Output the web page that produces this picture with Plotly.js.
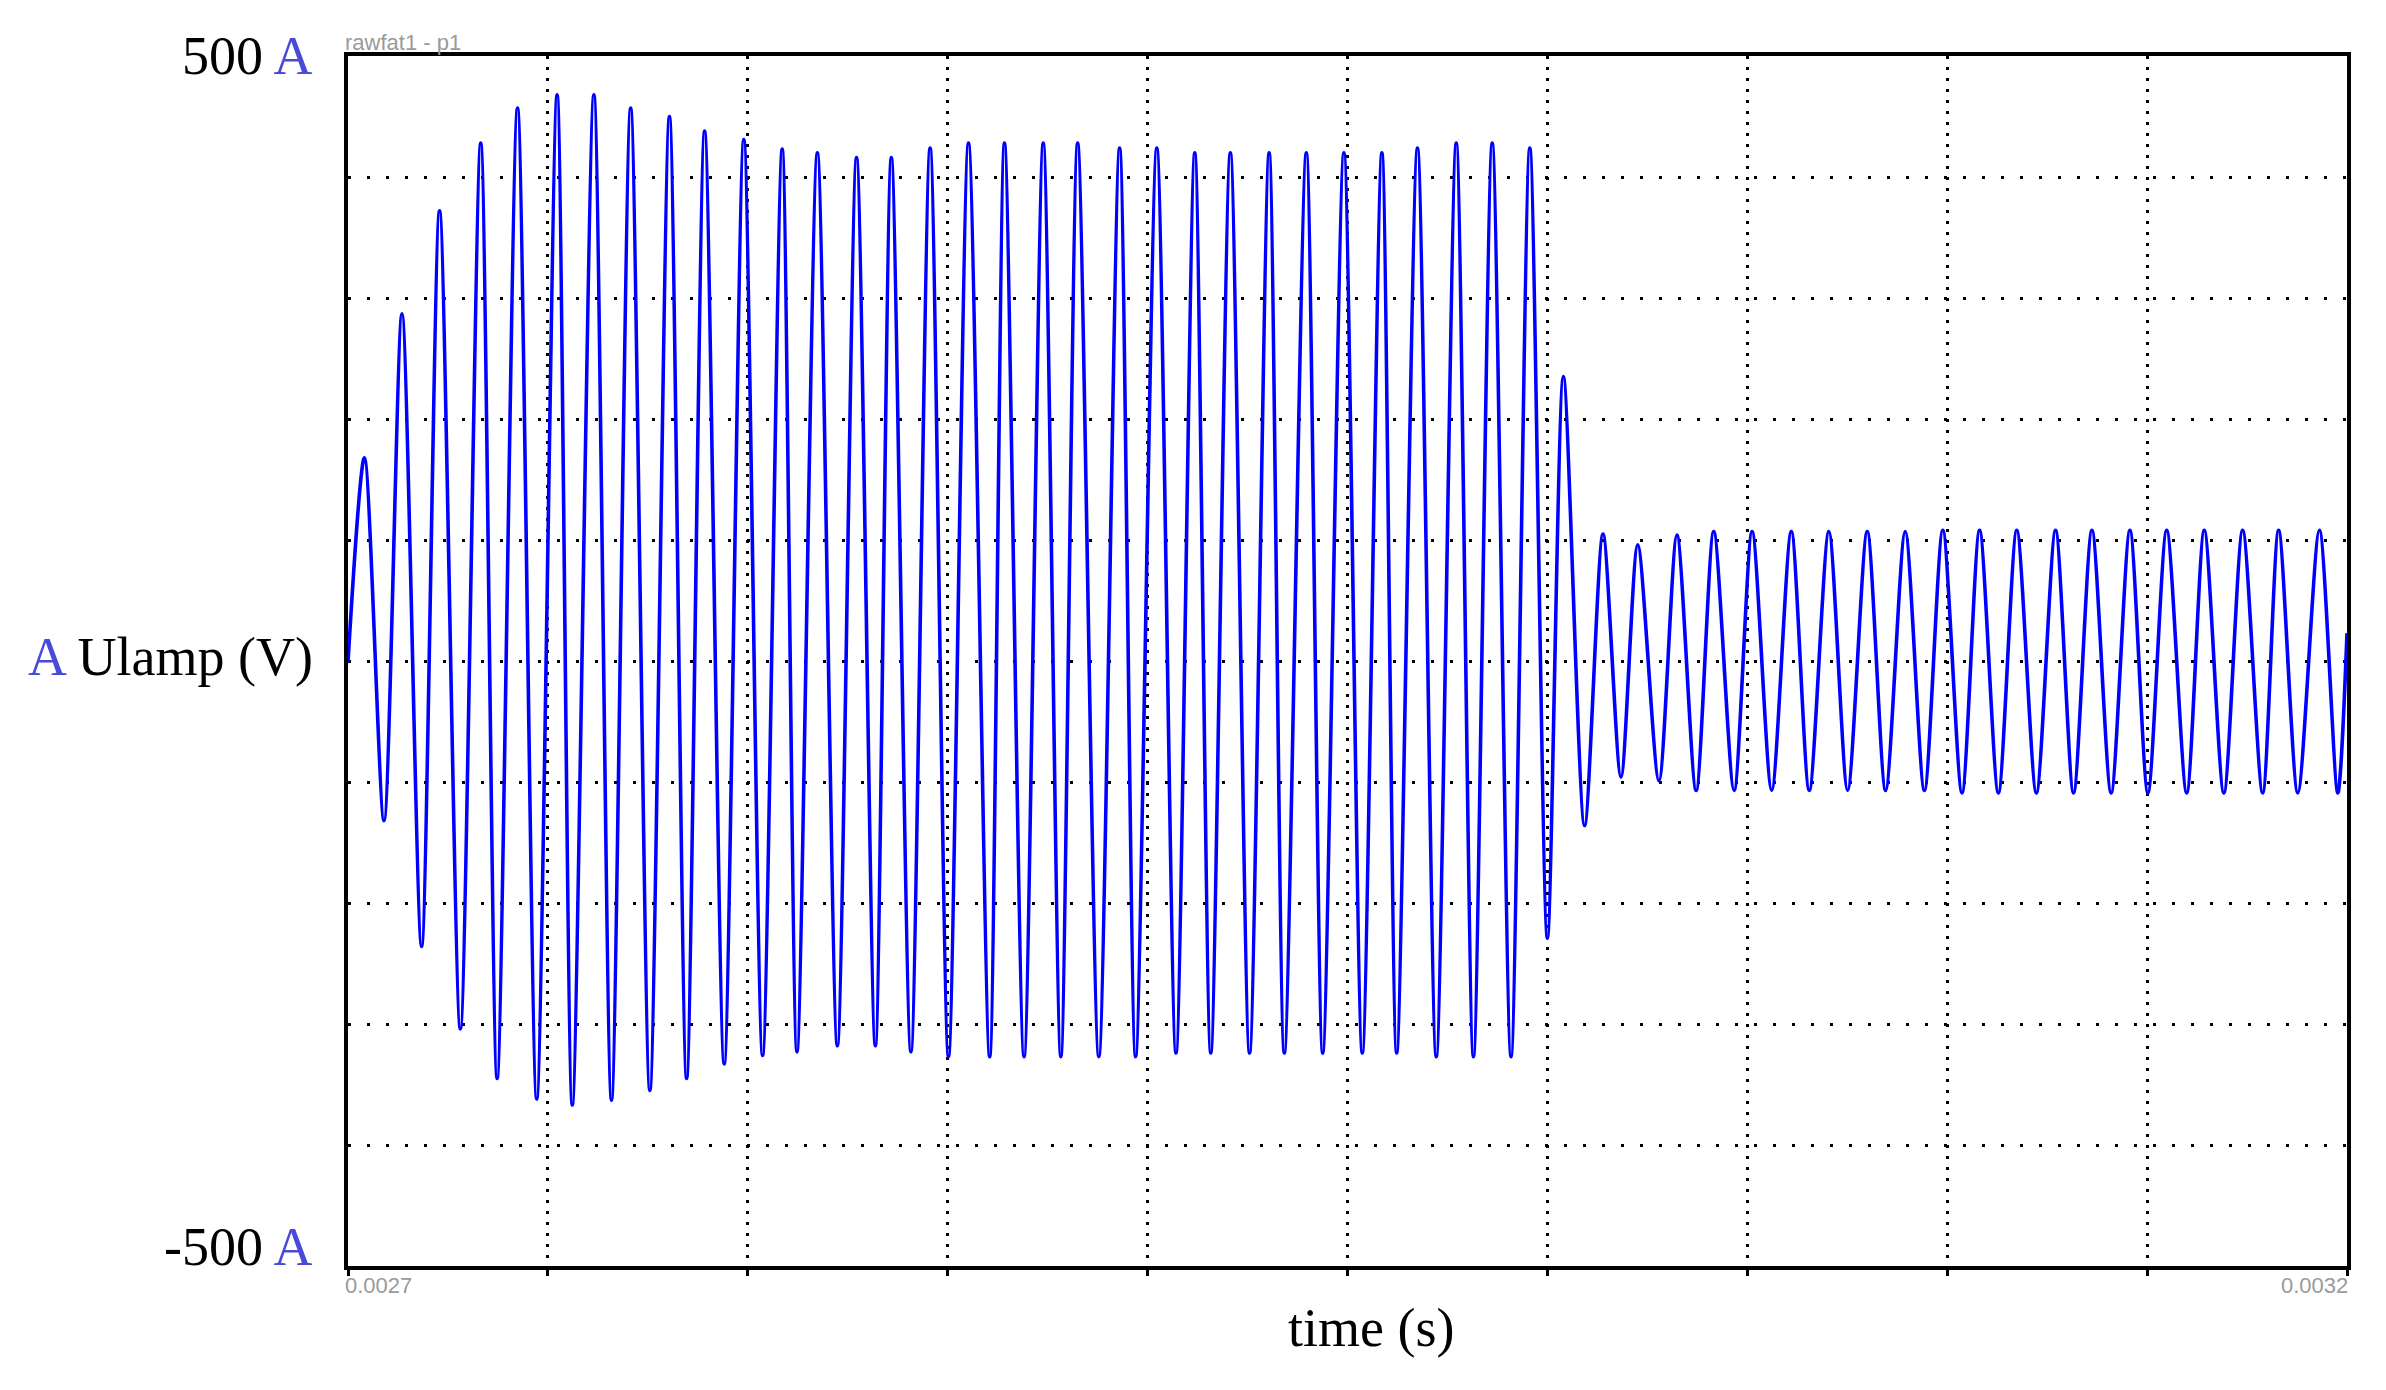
<!DOCTYPE html>
<html>
<head>
<meta charset="utf-8">
<script src="https://cdn.plot.ly/plotly-3.0.1.min.js"></script>
<style>
  html, body { margin: 0; padding: 0; background: #ffffff; }
  #chart { width: 2386px; height: 1390px; }
</style>
</head>
<body>
<div id="chart"></div>
<script>
// ---- data (time in s, current in A) ----
const timeS = [
  0.0027000, 0.0027041, 0.0027090, 0.0027135, 0.0027184, 0.0027229, 0.0027281, 0.0027332,
  0.0027373, 0.0027424, 0.0027472, 0.0027523, 0.0027561, 0.0027615, 0.0027659, 0.0027707,
  0.0027755, 0.0027804, 0.0027847, 0.0027892, 0.0027941, 0.0027990, 0.0028037, 0.0028086,
  0.0028123, 0.0028174, 0.0028224, 0.0028272, 0.0028319, 0.0028359, 0.0028408, 0.0028456,
  0.0028502, 0.0028552, 0.0028605, 0.0028642, 0.0028691, 0.0028739, 0.0028783, 0.0028825,
  0.0028878, 0.0028930, 0.0028970, 0.0029023, 0.0029071, 0.0029118, 0.0029158, 0.0029207,
  0.0029255, 0.0029304, 0.0029342, 0.0029397, 0.0029438, 0.0029491, 0.0029537, 0.0029586,
  0.0029623, 0.0029675, 0.0029722, 0.0029772, 0.0029815, 0.0029862, 0.0029909, 0.0029956,
  0.0030000, 0.0030040, 0.0030093, 0.0030139, 0.0030184, 0.0030226, 0.0030279, 0.0030324,
  0.0030372, 0.0030416, 0.0030467, 0.0030512, 0.0030561, 0.0030610, 0.0030655, 0.0030704,
  0.0030751, 0.0030800, 0.0030846, 0.0030895, 0.0030943, 0.0030989, 0.0031037, 0.0031081,
  0.0031128, 0.0031174, 0.0031223, 0.0031271, 0.0031316, 0.0031362, 0.0031410, 0.0031457,
  0.0031502, 0.0031549, 0.0031599, 0.0031643, 0.0031692, 0.0031739, 0.0031789, 0.0031829,
  0.0031877, 0.0031931, 0.0031977, 0.0032000
];
const currentA = [
   -1,  168, -132,  287, -236,  372, -304,  428,
 -345,  457, -362,  468, -367,  468, -363,  457,
 -355,  450, -345,  438, -333,  431, -326,  423,
 -323,  420, -318,  416, -318,  416, -323,  424,
 -327,  428, -327,  428, -327,  428, -327,  428,
 -327,  424, -327,  424, -324,  420, -324,  420,
 -324,  420, -324,  420, -324,  420, -324,  420,
 -324,  424, -327,  428, -327,  428, -327,  424,
 -229,  235, -136,  105,  -96,   96,  -99,  104,
 -107,  107, -107,  107, -107,  107, -107,  107,
 -107,  107, -107,  107, -107,  108, -109,  108,
 -109,  108, -109,  108, -109,  108, -109,  108,
 -109,  108, -109,  108, -109,  108, -109,  108,
 -109,  108, -109,   23
];

// ---- axis ranges and labels ----
const xRange = [0.0027, 0.0032];
const xGridStep = 0.00005;
const yRange = [-500, 500];
const yGridStep = 100;
const xEndLabels = ['0.0027', '0.0032'];
const yTopLabel = ['500', 'A'];
const yMidLabel = ['A', 'Ulamp (V)'];
const yBottomLabel = ['-500', 'A'];
const xTitle = 'time (s)';
const plotName = 'rawfat1 - p1';

const unitColor = '#4a4ad8';
const serif = 'Liberation Serif, Times New Roman, serif';
const sans = 'Liberation Sans, Arial, sans-serif';
const labelSize = 54;

const trace = {
  x: timeS,
  y: currentA,
  type: 'scatter',
  mode: 'lines',
  line: { color: '#0000ff', width: 3.6, shape: 'spline', smoothing: 0.8 },
  hoverinfo: 'skip'
};

const annotations = [
  { text: yTopLabel[0] + ' <span style="color:' + unitColor + '">' + yTopLabel[1] + '</span>',
    xref: 'paper', yref: 'paper', x: 0, y: 1, xanchor: 'right', yanchor: 'middle',
    xshift: -34, yshift: 0, font: { family: serif, size: labelSize, color: '#000' } },
  { text: '<span style="color:' + unitColor + '">' + yMidLabel[0] + '</span> ' + yMidLabel[1],
    xref: 'paper', yref: 'y', x: 0, y: 0, xanchor: 'right', yanchor: 'middle',
    xshift: -34, yshift: 4, font: { family: serif, size: labelSize, color: '#000' } },
  { text: yBottomLabel[0] + ' <span style="color:' + unitColor + '">' + yBottomLabel[1] + '</span>',
    xref: 'paper', yref: 'paper', x: 0, y: 0, xanchor: 'right', yanchor: 'bottom',
    xshift: -34, yshift: -12, font: { family: serif, size: labelSize, color: '#000' } },
  { text: xTitle, xref: 'paper', yref: 'paper', x: 0.512, y: 0, xanchor: 'center', yanchor: 'top',
    yshift: -31, font: { family: serif, size: labelSize, color: '#000' } },
  { text: plotName, xref: 'paper', yref: 'paper', x: 0, y: 1, xanchor: 'left', yanchor: 'bottom',
    xshift: -4, yshift: 0, font: { family: sans, size: 22, color: '#9a9a9a' } },
  { text: xEndLabels[0], xref: 'paper', yref: 'paper', x: 0, y: 0, xanchor: 'left', yanchor: 'top',
    xshift: -4, yshift: -6, font: { family: sans, size: 22, color: '#9a9a9a' } },
  { text: xEndLabels[1], xref: 'paper', yref: 'paper', x: 1, y: 0, xanchor: 'right', yanchor: 'top',
    xshift: 2, yshift: -6, font: { family: sans, size: 22, color: '#9a9a9a' } }
].map(a => Object.assign({ showarrow: false, borderpad: 0 }, a));

const layout = {
  width: 2386,
  height: 1390,
  margin: { l: 348, r: 39, t: 56, b: 124, pad: 0 },
  paper_bgcolor: '#ffffff',
  plot_bgcolor: '#ffffff',
  showlegend: false,
  xaxis: {
    range: xRange,
    tickmode: 'linear', tick0: xRange[0], dtick: xGridStep,
    showgrid: true, gridcolor: '#000000', gridwidth: 3, griddash: '3px,8px',
    showline: true, mirror: true, linecolor: '#000000', linewidth: 4,
    ticks: 'outside', ticklen: 6, tickwidth: 3, tickcolor: '#000000',
    showticklabels: false, zeroline: false, fixedrange: true
  },
  yaxis: {
    range: yRange,
    tickmode: 'linear', tick0: yRange[0], dtick: yGridStep,
    showgrid: true, gridcolor: '#000000', gridwidth: 3, griddash: '3px,16px',
    showline: true, mirror: true, linecolor: '#000000', linewidth: 4,
    ticks: '', showticklabels: false, zeroline: false, fixedrange: true
  },
  annotations: annotations
};

Plotly.newPlot('chart', [trace], layout, { staticPlot: true, displayModeBar: false });
</script>
</body>
</html>
